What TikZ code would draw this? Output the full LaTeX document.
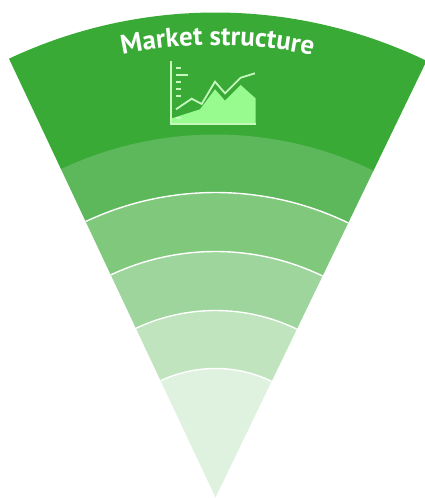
\documentclass[tikz,border=0pt]{standalone}
\usepackage{fontspec}
\setmainfont{PT Sans}
\usetikzlibrary{decorations.text}
\definecolor{bandA}{HTML}{38AA35}
\definecolor{bandB}{HTML}{5CB85A}
\definecolor{bandC}{HTML}{80C87C}
\definecolor{bandD}{HTML}{9DD59C}
\definecolor{bandE}{HTML}{BFE4BE}
\definecolor{bandF}{HTML}{DFF1DF}
\definecolor{iconline}{HTML}{C6F8BE}
\definecolor{iconfill}{HTML}{98FB90}
% colour, outer radius, inner radius
\newcommand{\fanband}[3]{\fill[#1] (64.2:#3pt) -- (64.2:#2pt) arc[start angle=64.2,end angle=115.2,radius=#2pt] -- (115.2:#3pt) arc[start angle=115.2,end angle=64.2,radius=#3pt] -- cycle;}
\newcommand{\fanrule}[1]{\draw[white,line width=1.4pt] (64.2:#1pt) arc[start angle=64.2,end angle=115.2,radius=#1pt];}
\tikzset{iconstroke/.style={draw=iconline,line width=1.8pt}}
\begin{document}
\begin{tikzpicture}
\useasboundingbox (-215.5pt,-0.5pt) rectangle (209.5pt,497.5pt);
\fanband{bandA}{485}{362}
\fanband{bandB}{363}{304}
\fanband{bandC}{305}{245}
\fanband{bandD}{246}{186}
\fanband{bandE}{187}{128}
\fill[bandF] (0pt,0pt) -- (64.2:129pt) arc[start angle=64.2,end angle=115.2,radius=129pt] -- cycle;
\fanrule{305}
\fanrule{246}
\fanrule{187}
\fanrule{129}
\path[decorate,decoration={text along path,text align=center,
  text={|\fontsize{27}{27}\selectfont\bfseries\color{white}|Market structure}}]
  (111.75:452.5pt) arc[start angle=111.75,end angle=67.75,radius=452.5pt];
\begin{scope}[shift={(-215.5pt,497.5pt)},x=1pt,y=-1pt]
\fill[iconfill] (172,118.3) -- (200,109.3) -- (215,89.3) -- (225,100.7) -- (240.7,85) -- (255.5,98.3) -- (255.5,124) -- (172,124) -- cycle;
\draw[iconstroke] (170.7,60.7) -- (170.7,124.3) -- (255.7,124.3);
\draw[iconstroke] (176,109.3) -- (191.7,98.7) -- (201.7,104) -- (215,81.7) -- (225,93.3) -- (240.7,77.7) -- (255,73.3);
\draw[iconstroke] (176,68) -- (181,68);
\draw[iconstroke] (176,75) -- (188,75);
\draw[iconstroke] (176,82.3) -- (181,82.3);
\draw[iconstroke] (176,89.3) -- (181,89.3);
\draw[iconstroke] (176,96.3) -- (181,96.3);
\draw[iconstroke] (176,117.7) -- (181,117.7);
\end{scope}
\end{tikzpicture}
\end{document}
